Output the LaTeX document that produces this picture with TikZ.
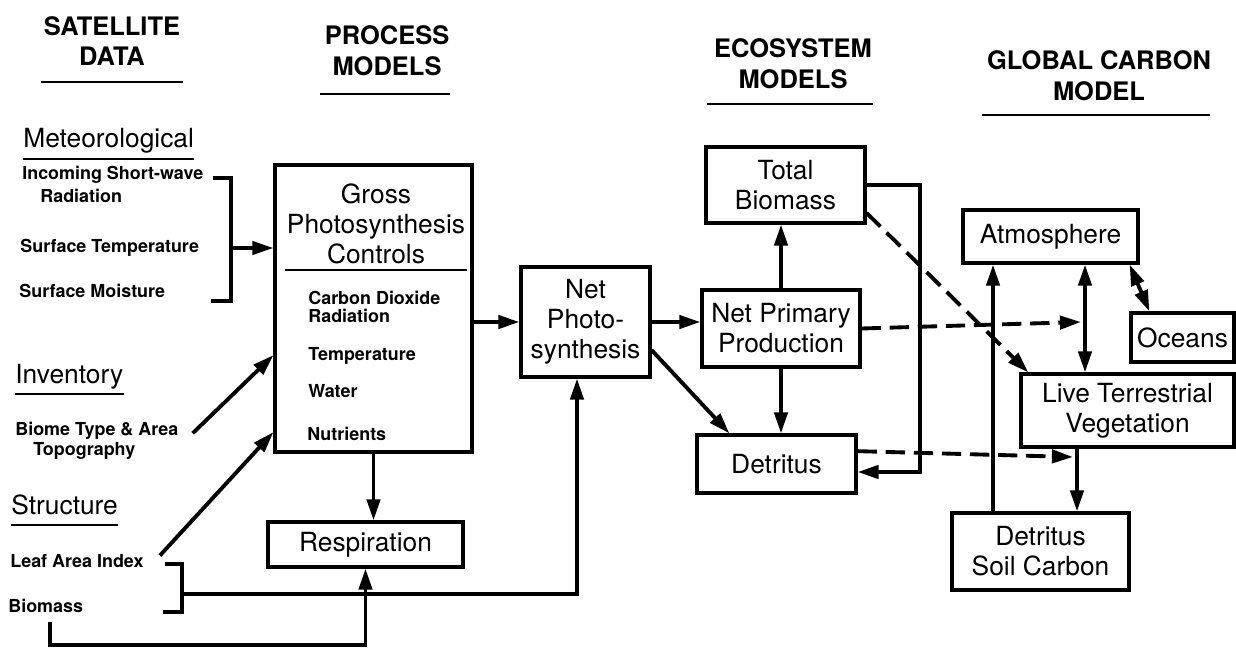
\documentclass[tikz,border=0pt]{standalone}
\usepackage{fontspec}
\setmainfont{TeX Gyre Heros}
\usepackage{xcolor}
\definecolor{inkblack}{RGB}{0, 0, 0}
\usepackage{tikz}
\usetikzlibrary{arrows.meta, calc}

\begin{document}
\begin{tikzpicture}[x=0.02cm, y=-0.02cm, >={Triangle[length=12pt, width=7.5pt]}, inkblack,
    heading/.style={font=\fontsize{14.5}{17.5}\selectfont\bfseries, align=center, inner sep=0pt},
    subhead/.style={font=\fontsize{15}{18}\selectfont, anchor=base west, inner sep=0pt},
    item/.style={font=\fontsize{10.2}{12}\selectfont\bfseries, anchor=base west, inner sep=0pt},
    box/.style={draw, line width=1.8pt, font=\fontsize{15}{17}\selectfont, align=center, inner sep=0pt},
    rule/.style={line width=1.6pt},
    bracket/.style={line width=2pt},
    flow/.style={->, line width=2.2pt},
    dashflow/.style={->, line width=2.2pt, dash pattern=on 11pt off 5pt}]
    \useasboundingbox (0,0) rectangle (1236,651);

    \node[heading] (sathead) at (112,41) {SATELLITE\\DATA};
    \node[heading] (prochead) at (387,51) {PROCESS\\MODELS};
    \node[heading] (ecohead) at (793,64) {ECOSYSTEM\\MODELS};
    \node[heading] (globhead) at (1099,76) {GLOBAL CARBON\\MODEL};
    \draw[rule] (41,82) -- (183,82);
    \draw[rule] (320,94) -- (450,94);
    \draw[rule] (707,104) -- (873,104);
    \draw[rule] (982,115) -- (1210,115);

    \node[subhead] (meteo) at (23,148) {Meteorological};
    \node[subhead] (invent) at (15,383) {Inventory};
    \node[subhead] (struct) at (11,514) {Structure};
    \foreach \s in {meteo, invent, struct}
        \draw[rule] ([yshift=-0.22cm]\s.base west) -- ([yshift=-0.22cm]\s.base east);

    \node[item] (incoming) at (22,180) {Incoming Short-wave};
    \node[item] (radiation) at (40,203) {Radiation};
    \node[item] (surftemp) at (20,253) {Surface Temperature};
    \node[item] (surfmoist) at (19,298) {Surface Moisture};
    \node[item] (biome) at (15,435) {Biome Type \& Area};
    \node[item] (topo) at (33,455) {Topography};
    \node[item] (leaf) at (10,567) {Leaf Area Index};
    \node[item] (biomass) at (8,612) {Biomass};

    \node[box, minimum width=3.94cm, minimum height=5.74cm] (gross) at (373.5,308.5) {};
    \node[font=\fontsize{15}{17}\selectfont, align=center, inner sep=0pt] (grosstitle) at (376,224) {Gross\\Photosynthesis\\Controls};
    \draw[rule] (285,270) -- (467,270);
    \node[item] (co2) at (308,305) {Carbon Dioxide};
    \node[item] (light) at (308,323) {Radiation};
    \node[item] (temp) at (308,360) {Temperature};
    \node[item] (water) at (308,398) {Water};
    \node[item] (nutr) at (307,440) {Nutrients};

    \node[box, minimum width=3.9cm, minimum height=0.9cm] (resp) at (365.5,544.5) {Respiration};
    \node[box, minimum width=2.58cm, minimum height=2.2cm] (netps) at (585.5,322) {Net\\Photo-\\synthesis};
    \node[box, minimum width=3.18cm, minimum height=1.52cm] (totbio) at (785.5,185) {Total\\Biomass};
    \node[box, minimum width=3.16cm, minimum height=1.54cm] (npp) at (781,328.5) {Net Primary\\Production};
    \node[box, minimum width=3.18cm, minimum height=1.16cm] (detr) at (776.5,464) {Detritus};
    \node[box, minimum width=3.5cm, minimum height=1.06cm] (atmos) at (1050.5,236.5) {Atmosphere};
    \node[box, minimum width=2.06cm, minimum height=0.98cm] (oceans) at (1182.5,337.5) {Oceans};
    \node[box, minimum width=4.26cm, minimum height=1.46cm] (ltv) at (1127.5,410.5) {Live Terrestrial\\Vegetation};
    \node[box, minimum width=3.54cm, minimum height=1.54cm] (dsc) at (1040.5,551.5) {Detritus\\Soil Carbon};

    \coordinate (metbr) at (231,248);
    \coordinate (strbr) at (182,594);
    \coordinate (photox) at (577,0);
    \coordinate (bmfoot) at (50,622);
    \coordinate (bmbase) at (0,645);
    \coordinate (loopc) at (920,472);
    \coordinate (airx) at (1085,0);
    \coordinate (soilx) at (993,0);
    \coordinate (vegx) at (1077,0);
    \coordinate (nppend) at (1081,322);
    \coordinate (detrend) at (1073,457);

    \draw[bracket] (213,178) -| (metbr) |- (211,301);
    \draw[flow] (metbr) -- (metbr -| gross.west);
    \draw[flow] ($(biome.east)+(14,3)$) -- (gross.205);
    \draw[flow] ($(leaf.east)+(16,-5)$) -- (gross.231);
    \draw[bracket] (165,564) -| (strbr) |- (163,612);
    \draw[flow] (strbr) -| (netps.south -| photox);
    \draw[flow] (bmfoot) |- (resp.south |- bmbase) -- (resp.south);
    \draw[flow] (gross.south) -- (gross.south |- resp.north);
    \draw[flow] (gross.east |- netps.west) -- (netps.west);
    \draw[flow] (netps.east) -- (netps.east -| npp.west);
    \draw[flow] (netps.-23) -- (detr.147);
    \draw[flow] (npp.north) -- (npp.north |- totbio.south);
    \draw[flow] (npp.south) -- (npp.south |- detr.north);
    \draw[flow] (totbio.east) -| (loopc) -- (loopc -| detr.east);
    \draw[dashflow] (totbio.-19) -- (ltv.159);
    \draw[dashflow] (npp.east) -- (nppend);
    \draw[dashflow] (detr.9) -- (detrend);
    \draw[flow, <->] (atmos.south -| airx) -- (ltv.north -| airx);
    \draw[flow] (dsc.north -| soilx) -- (atmos.south -| soilx);
    \draw[flow] (ltv.south -| vegx) -- (dsc.north -| vegx);
    \draw[flow, <->] ($(atmos.south east)+(-10,0)$) -- ($(oceans.north west)+(20,0)$);
\end{tikzpicture}
\end{document}
